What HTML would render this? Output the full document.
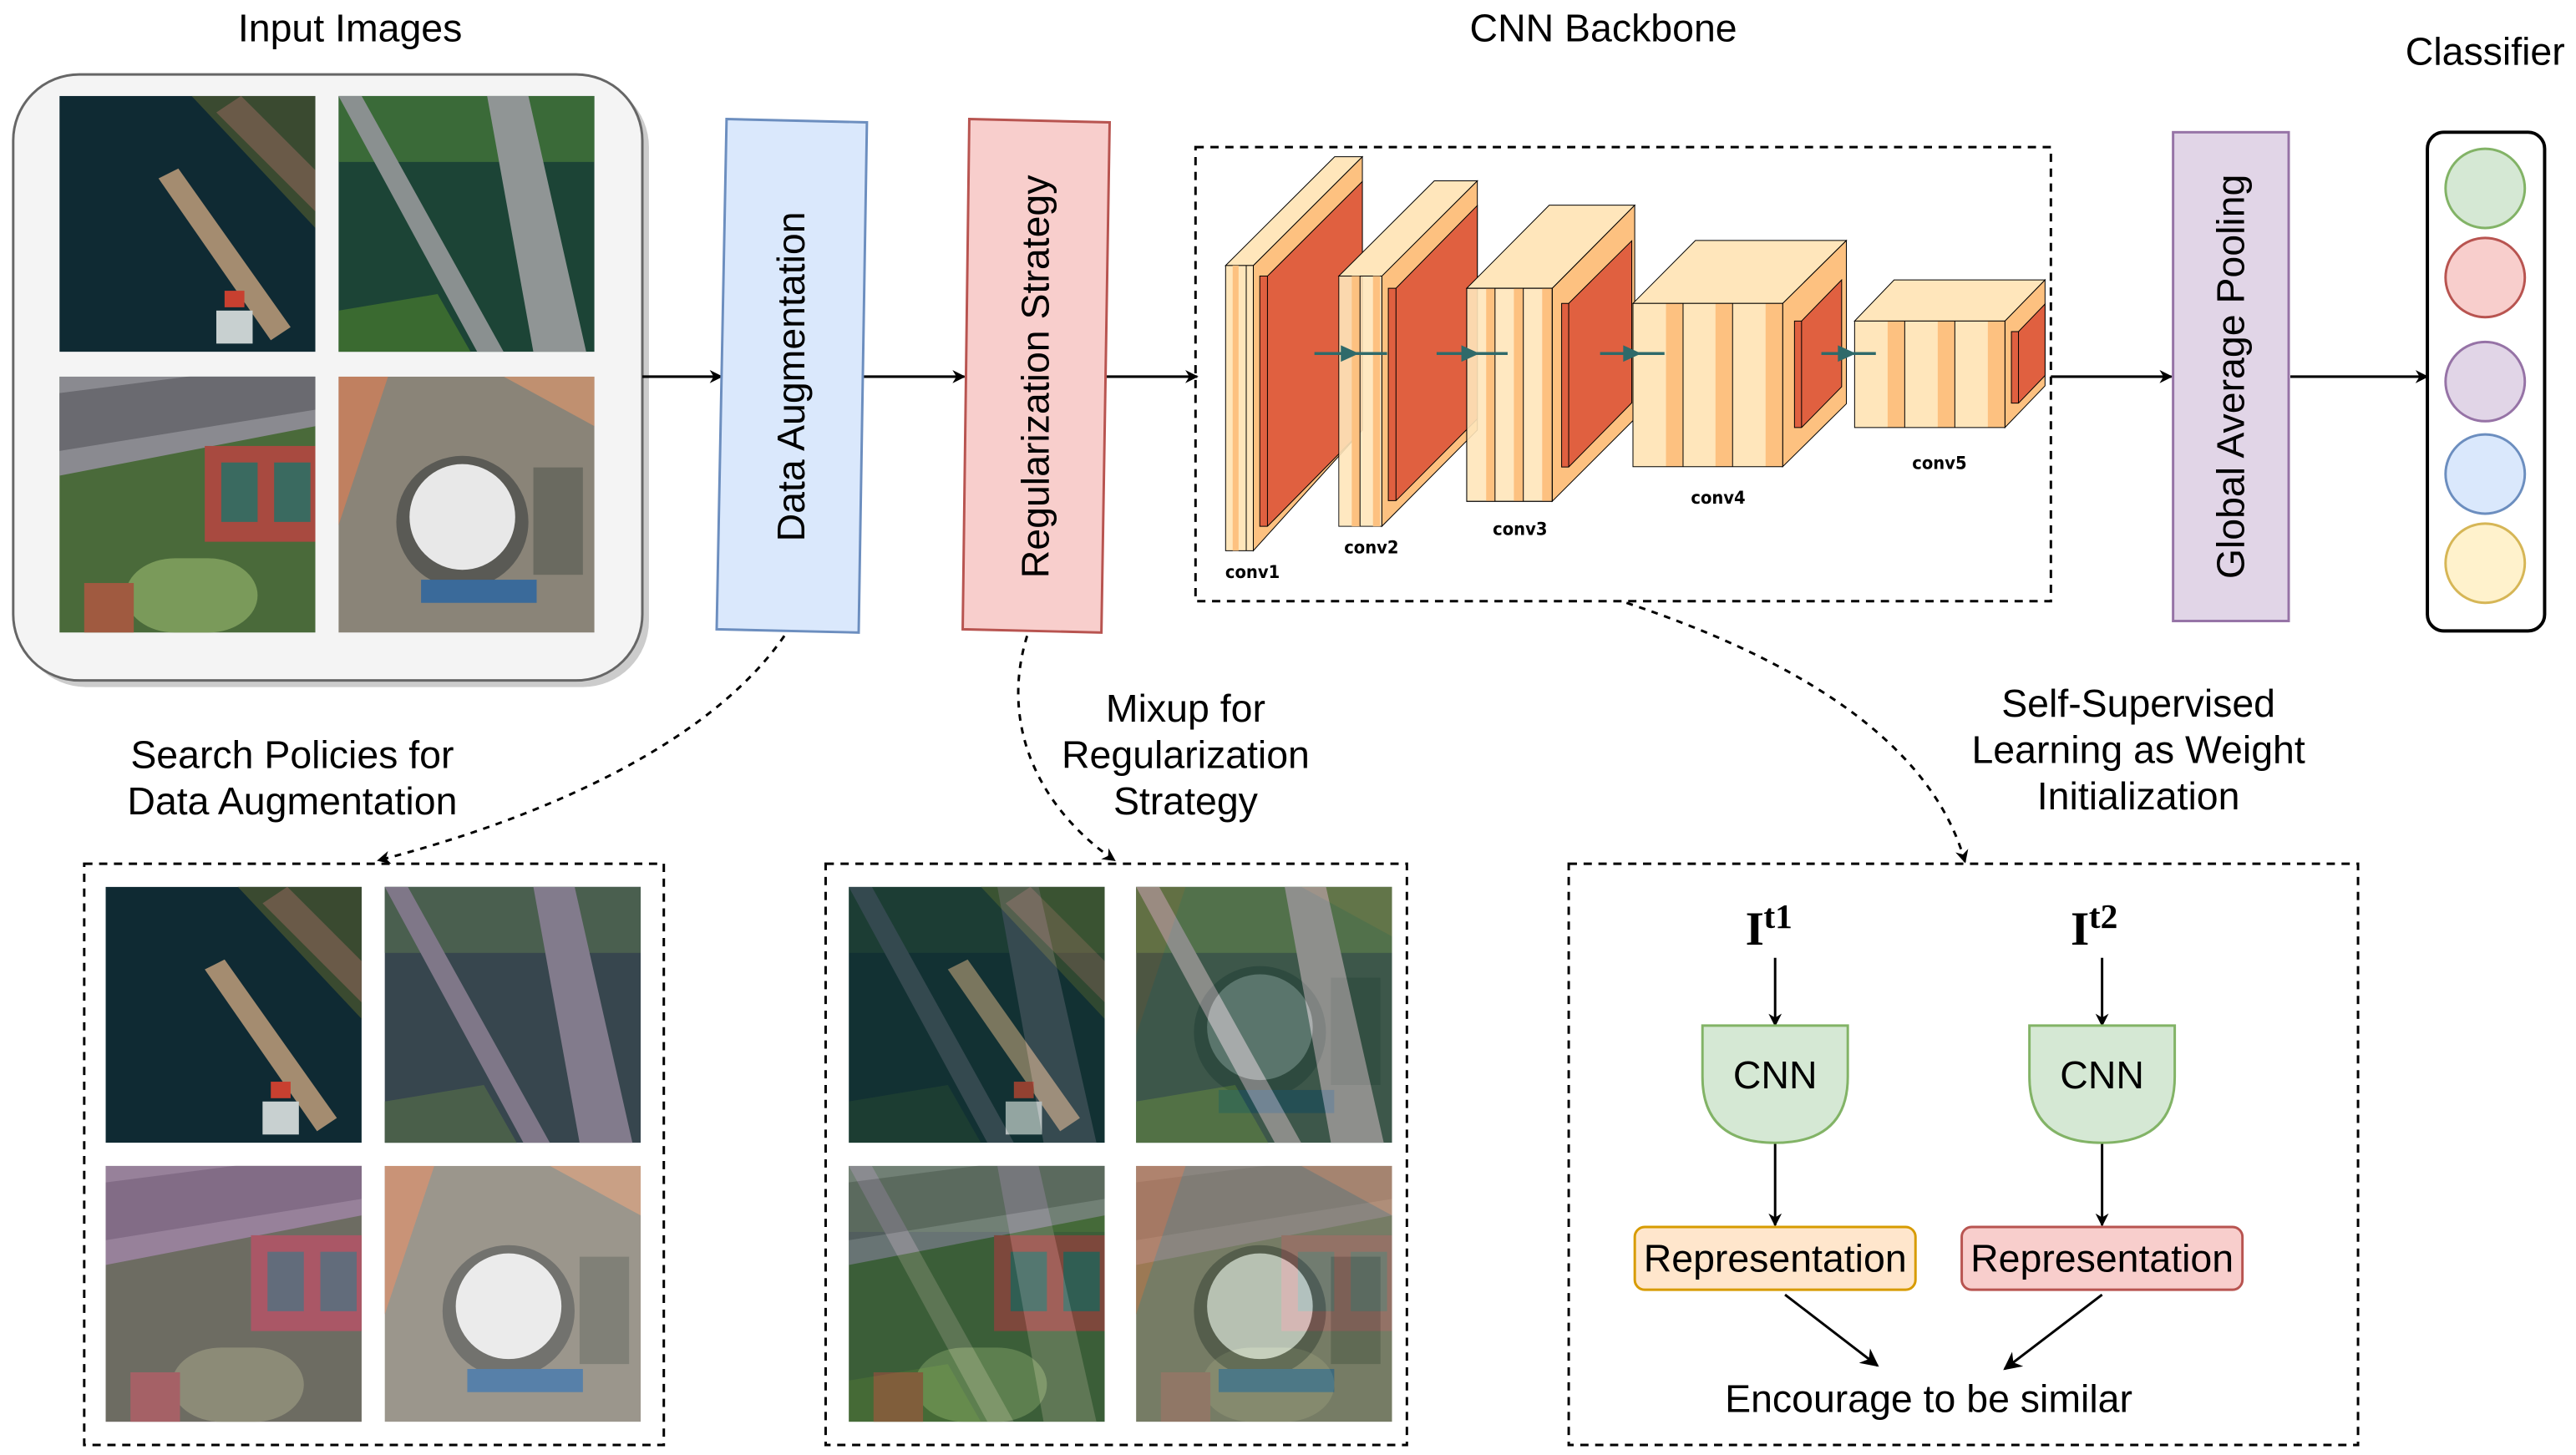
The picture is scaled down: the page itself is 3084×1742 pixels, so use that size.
<!DOCTYPE html>
<html><head><meta charset="utf-8"><style>html,body{margin:0;padding:0;background:#fff}svg{display:block}</style></head>
<body>
<svg width="3084" height="1742" viewBox="0 0 1560 881" xmlns="http://www.w3.org/2000/svg" font-family="Liberation Sans, sans-serif">
<defs>
<marker id="ar" viewBox="0 0 10 10" refX="9" refY="5" markerWidth="8" markerHeight="8" orient="auto" markerUnits="userSpaceOnUse"><path d="M0,0 L10,5 L0,10 L3,5 z" fill="#000"/></marker>
<marker id="ar2" viewBox="0 0 10 10" refX="9" refY="5" markerWidth="11" markerHeight="11" orient="auto" markerUnits="userSpaceOnUse"><path d="M0,0 L10,5 L0,10 L3,5 z" fill="#000"/></marker>
<clipPath id="cp"><rect x="0" y="0" width="155" height="155"/></clipPath>
<g id="harbor"><g clip-path="url(#cp)"><rect width="155" height="155" fill="#0f2a33"/><path d="M80,0 L155,0 L155,80 Z" fill="#3a4a30"/><path d="M110,0 L155,45 L155,70 L95,10 Z" fill="#6a5a48"/><path d="M60,50 L72,44 L140,140 L128,148 Z" fill="#a48c70"/><rect x="95" y="130" width="22" height="20" fill="#c8d0d0"/><rect x="100" y="118" width="12" height="10" fill="#c84030"/></g></g>
<g id="bridge"><g clip-path="url(#cp)"><rect width="155" height="155" fill="#1c4436"/><rect width="155" height="40" fill="#3a6a38"/><path d="M0,0 L14,0 L100,155 L84,155 Z" fill="#8a9090"/><path d="M90,0 L115,0 L150,155 L118,155 Z" fill="#909595"/><path d="M0,130 L60,120 L80,155 L0,155 Z" fill="#3a6a30"/></g></g>
<g id="tennis"><g clip-path="url(#cp)"><rect width="155" height="155" fill="#4a6a3a"/><path d="M0,0 L155,0 L155,30 L0,60 Z" fill="#8a8a90"/><path d="M0,10 L155,-10 L155,20 L0,45 Z" fill="#6a6a70"/><rect x="88" y="42" width="67" height="58" fill="#a84a40"/><rect x="98" y="52" width="22" height="36" fill="#3a6a60"/><rect x="130" y="52" width="22" height="36" fill="#3a6a60"/><rect x="40" y="110" width="80" height="45" rx="30" fill="#7a9a5a"/><rect x="15" y="125" width="30" height="30" fill="#a05a40"/></g></g>
<g id="stadium"><g clip-path="url(#cp)"><rect width="155" height="155" fill="#8a8478"/><path d="M0,0 L30,0 L0,90 Z" fill="#c08060"/><path d="M100,0 L155,0 L155,30 Z" fill="#c09070"/><circle cx="75" cy="88" r="40" fill="#5a5a55"/><circle cx="75" cy="85" r="32" fill="#e8e8e8"/><rect x="50" y="123" width="70" height="14" fill="#3a6a9a"/><rect x="118" y="55" width="30" height="65" fill="#6a6a60"/></g></g>
</defs>

<!-- Titles -->
<g font-size="23.5" fill="#000" text-anchor="middle">
<text x="212" y="25">Input Images</text>
<text x="971" y="25">CNN Backbone</text>
<text x="1505" y="39">Classifier</text>
<text x="177" y="465">Search Policies for</text>
<text x="177" y="493">Data Augmentation</text>
<text x="718" y="437">Mixup for</text>
<text x="718" y="465">Regularization</text>
<text x="718" y="493">Strategy</text>
<text x="1295" y="434">Self-Supervised</text>
<text x="1295" y="462">Learning as Weight</text>
<text x="1295" y="490">Initialization</text>
</g>

<!-- Input images box -->
<rect x="12" y="49" width="381" height="367" rx="40" fill="#aaa" opacity="0.6"/>
<rect x="8" y="45" width="381" height="367" rx="40" fill="#f4f4f4" stroke="#666" stroke-width="1.5"/>
<use href="#harbor" x="36" y="58"/>
<use href="#bridge" x="205" y="58"/>
<use href="#tennis" x="36" y="228"/>
<use href="#stadium" x="205" y="228"/>

<!-- main arrows -->
<g stroke="#000" stroke-width="1.6" fill="none">
<line x1="389" y1="228" x2="437" y2="228" marker-end="url(#ar)"/>
<line x1="522" y1="228" x2="584" y2="228" marker-end="url(#ar)"/>
<line x1="669" y1="228" x2="725" y2="228" marker-end="url(#ar)"/>
<line x1="1242" y1="228" x2="1315" y2="228" marker-end="url(#ar)"/>
<line x1="1387" y1="228" x2="1470" y2="228" marker-end="url(#ar)"/>
</g>

<!-- Data Augmentation -->
<path d="M440,72 L525,74 L520,383 L434,381 Z" fill="#dae8fc" stroke="#6c8ebf" stroke-width="1.5"/>
<text x="0" y="0" font-size="23.5" text-anchor="middle" transform="translate(487,228) rotate(-90)">Data Augmentation</text>
<!-- Regularization -->
<path d="M587,72 L672,74 L667,383 L583,381 Z" fill="#f8cecc" stroke="#b85450" stroke-width="1.5"/>
<text x="0" y="0" font-size="23.5" text-anchor="middle" transform="translate(635,228) rotate(-90)">Regularization Strategy</text>
<!-- GAP -->
<rect x="1316" y="80" width="70" height="296" fill="#e1d5e7" stroke="#9673a6" stroke-width="1.5"/>
<text x="0" y="0" font-size="23.5" text-anchor="middle" transform="translate(1359,228) rotate(-90)">Global Average Pooling</text>

<!-- Classifier -->
<rect x="1470" y="80" width="71" height="302" rx="10" fill="#fff" stroke="#000" stroke-width="2"/>
<circle cx="1505" cy="114" r="24" fill="#d5e8d4" stroke="#82b366" stroke-width="1.5"/>
<circle cx="1505" cy="168" r="24" fill="#f8cecc" stroke="#b85450" stroke-width="1.5"/>
<circle cx="1505" cy="231" r="24" fill="#e1d5e7" stroke="#9673a6" stroke-width="1.5"/>
<circle cx="1505" cy="287" r="24" fill="#dae8fc" stroke="#6c8ebf" stroke-width="1.5"/>
<circle cx="1505" cy="341" r="24" fill="#fff2cc" stroke="#d6b656" stroke-width="1.5"/>

<!-- CNN backbone -->
<rect x="724" y="89" width="518" height="275" fill="none" stroke="#000" stroke-width="1.5" stroke-dasharray="5,4"/>
<g transform="translate(710.8,75.8) scale(0.357,0.1943)" stroke="#000" stroke-width="1" vector-effect="non-scaling-stroke">
<g style="vector-effect:non-scaling-stroke">
 <!-- conv1 -->
 <path vector-effect="non-scaling-stroke" d="M135,437 L320,98 L320,950 L135,1326 Z" fill="#fdc180"/>
 <path vector-effect="non-scaling-stroke" d="M88,437 L135,437 L320,98 L273,98 Z" fill="#ffe6bb"/>
 <rect vector-effect="non-scaling-stroke" x="88" y="437" width="47" height="889" fill="#ffe6bb"/>
 <rect x="100" y="437" width="10" height="889" fill="#fdc180" stroke="none"/>
 <line vector-effect="non-scaling-stroke" x1="123" y1="437" x2="123" y2="1326"/>
 <path vector-effect="non-scaling-stroke" d="M146,470 L159,470 L320,175 L320,950 L159,1250 L146,1250 Z" fill="#e06040"/>
 <line vector-effect="non-scaling-stroke" x1="159" y1="470" x2="159" y2="1250"/>
 <!-- conv2 -->
 <path vector-effect="non-scaling-stroke" d="M353,470 L515,173 L515,950 L353,1250 Z" fill="#fdc180"/>
 <path vector-effect="non-scaling-stroke" d="M280,470 L353,470 L515,173 L442,173 Z" fill="#ffe6bb"/>
 <rect vector-effect="non-scaling-stroke" x="280" y="470" width="73" height="780" fill="#ffe6bb" opacity="0.9"/>
 <rect x="302" y="470" width="14" height="780" fill="#fdc180" stroke="none"/>
 <rect x="338" y="470" width="12" height="780" fill="#fdc180" stroke="none"/>
 <line vector-effect="non-scaling-stroke" x1="316" y1="470" x2="316" y2="1250"/>
 <path vector-effect="non-scaling-stroke" d="M364,508 L377,508 L515,250 L515,915 L377,1170 L364,1170 Z" fill="#e06040"/>
 <line vector-effect="non-scaling-stroke" x1="377" y1="508" x2="377" y2="1170"/>
 <!-- conv3 -->
 <path vector-effect="non-scaling-stroke" d="M642,508 L782,249 L782,915 L642,1172 Z" fill="#fdc180"/>
 <path vector-effect="non-scaling-stroke" d="M497,508 L642,508 L782,249 L637,249 Z" fill="#ffe6bb"/>
 <rect vector-effect="non-scaling-stroke" x="497" y="508" width="145" height="664" fill="#ffe6bb" opacity="0.9"/>
 <rect x="530" y="508" width="15" height="664" fill="#fdc180" stroke="none"/>
 <rect x="577" y="508" width="16" height="664" fill="#fdc180" stroke="none"/>
 <rect x="625" y="508" width="16" height="664" fill="#fdc180" stroke="none"/>
 <line vector-effect="non-scaling-stroke" x1="545" y1="508" x2="545" y2="1172"/><line vector-effect="non-scaling-stroke" x1="593" y1="508" x2="593" y2="1172"/>
 <rect vector-effect="non-scaling-stroke" x="497" y="508" width="145" height="664" fill="none"/>
 <path vector-effect="non-scaling-stroke" d="M658,555 L670,555 L777,360 L777,865 L670,1065 L658,1065 Z" fill="#e06040"/>
 <line vector-effect="non-scaling-stroke" x1="670" y1="555" x2="670" y2="1065"/>
 <!-- conv4 -->
 <path vector-effect="non-scaling-stroke" d="M1033,555 L1141,359 L1141,868 L1033,1064 Z" fill="#fdc180"/>
 <path vector-effect="non-scaling-stroke" d="M779,555 L1033,555 L1141,359 L885,359 Z" fill="#ffe6bb"/>
 <rect x="779" y="555" width="254" height="509" fill="#ffe6bb" stroke="none"/>
 <rect x="835" y="555" width="29" height="509" fill="#fdc180" stroke="none"/>
 <rect x="919" y="555" width="29" height="509" fill="#fdc180" stroke="none"/>
 <rect x="1004" y="555" width="29" height="509" fill="#fdc180" stroke="none"/>
 <line vector-effect="non-scaling-stroke" x1="864" y1="555" x2="864" y2="1064"/><line vector-effect="non-scaling-stroke" x1="948" y1="555" x2="948" y2="1064"/>
 <rect vector-effect="non-scaling-stroke" x="779" y="555" width="254" height="509" fill="none"/>
 <path vector-effect="non-scaling-stroke" d="M1053,610 L1065,610 L1133,482 L1133,815 L1065,942 L1053,942 Z" fill="#e06040"/>
 <line vector-effect="non-scaling-stroke" x1="1065" y1="610" x2="1065" y2="942"/>
 <!-- conv5 -->
 <path vector-effect="non-scaling-stroke" d="M1410,610 L1478,482 L1478,812 L1410,942 Z" fill="#fdc180"/>
 <path vector-effect="non-scaling-stroke" d="M1155,610 L1410,610 L1478,482 L1222,482 Z" fill="#ffe6bb"/>
 <rect x="1155" y="610" width="255" height="332" fill="#ffe6bb" stroke="none"/>
 <rect x="1211" y="610" width="29" height="332" fill="#fdc180" stroke="none"/>
 <rect x="1296" y="610" width="29" height="332" fill="#fdc180" stroke="none"/>
 <rect x="1381" y="610" width="29" height="332" fill="#fdc180" stroke="none"/>
 <line vector-effect="non-scaling-stroke" x1="1240" y1="610" x2="1240" y2="942"/><line vector-effect="non-scaling-stroke" x1="1325" y1="610" x2="1325" y2="942"/>
 <rect vector-effect="non-scaling-stroke" x="1155" y="610" width="255" height="332" fill="none"/>
 <path vector-effect="non-scaling-stroke" d="M1421,643 L1433,643 L1478,557 L1478,780 L1433,866 L1421,866 Z" fill="#e06040"/>
 <line vector-effect="non-scaling-stroke" x1="1433" y1="643" x2="1433" y2="866"/>
</g>
</g>
<!-- teal arrows (display coords) -->
<g stroke="#2f6a6a" stroke-width="1.8">
 <line x1="796" y1="214" x2="840" y2="214"/><path d="M812,209 L823,214 L812,219 Z" fill="#2f6a6a" stroke="none"/>
 <line x1="870" y1="214" x2="913" y2="214"/><path d="M885,209 L896,214 L885,219 Z" fill="#2f6a6a" stroke="none"/>
 <line x1="969" y1="214" x2="1008" y2="214"/><path d="M983,209 L994,214 L983,219 Z" fill="#2f6a6a" stroke="none"/>
 <line x1="1103" y1="214" x2="1136" y2="214"/><path d="M1113,209 L1124,214 L1113,219 Z" fill="#2f6a6a" stroke="none"/>
</g>
<g font-size="11" font-weight="bold" fill="#000" font-family="DejaVu Sans Condensed, DejaVu Sans, sans-serif">
 <text x="742" y="350">conv1</text><text x="814" y="335">conv2</text><text x="904" y="324">conv3</text><text x="1024" y="305">conv4</text><text x="1158" y="284">conv5</text>
</g>

<!-- dashed connectors -->
<g stroke="#000" stroke-width="1.5" fill="none" stroke-dasharray="4,4">
<path d="M475,385 C430,450 330,495 229,521" marker-end="url(#ar)"/>
<path d="M622,385 C605,440 630,490 675,521" marker-end="url(#ar)"/>
<path d="M985,365 C1090,400 1170,450 1190,522" marker-end="url(#ar)"/>
</g>

<!-- bottom boxes -->
<g fill="none" stroke="#000" stroke-width="1.5" stroke-dasharray="5,4">
<rect x="51" y="523" width="351" height="352"/>
<rect x="500" y="523" width="352" height="352"/>
<rect x="950" y="523" width="478" height="352"/>
</g>
<!-- augmented images -->
<use href="#harbor" x="64" y="537"/>
<g><use href="#bridge" x="233" y="537"/><rect x="233" y="537" width="155" height="155" fill="#6a4a7a" opacity="0.35"/></g>
<g><use href="#tennis" x="64" y="706"/><rect x="64" y="706" width="155" height="155" fill="#b070b0" opacity="0.35"/></g>
<g><use href="#stadium" x="233" y="706"/><rect x="233" y="706" width="155" height="155" fill="#fff" opacity="0.15"/></g>
<!-- mixup images -->
<use href="#harbor" x="514" y="537"/><g opacity="0.3"><use href="#bridge" x="514" y="537"/></g>
<use href="#bridge" x="688" y="537"/><g opacity="0.3"><use href="#stadium" x="688" y="537"/></g>
<use href="#tennis" x="514" y="706"/><g opacity="0.3"><use href="#bridge" x="514" y="706"/></g>
<use href="#stadium" x="688" y="706"/><g opacity="0.3"><use href="#tennis" x="688" y="706"/></g>

<!-- SSL box -->
<g font-family="Liberation Serif, serif" font-weight="bold" fill="#000">
<text x="1057" y="572" font-size="29">I</text><text x="1068" y="562" font-size="21">t1</text>
<text x="1254" y="572" font-size="29">I</text><text x="1265" y="562" font-size="21">t2</text>
</g>
<g stroke="#000" stroke-width="1.5" fill="none">
<line x1="1075" y1="580" x2="1075" y2="621" marker-end="url(#ar)"/>
<line x1="1273" y1="580" x2="1273" y2="621" marker-end="url(#ar)"/>
<line x1="1075" y1="692" x2="1075" y2="742" marker-end="url(#ar)"/>
<line x1="1273" y1="692" x2="1273" y2="742" marker-end="url(#ar)"/>
<line x1="1081" y1="784" x2="1137" y2="827" marker-end="url(#ar2)"/>
<line x1="1273" y1="784" x2="1214" y2="829" marker-end="url(#ar2)"/>
</g>
<path d="M1031,621 L1119,621 L1119,652 Q1119,692 1075,692 Q1031,692 1031,652 Z" fill="#d5e8d4" stroke="#82b366" stroke-width="1.5"/>
<path d="M1229,621 L1317,621 L1317,652 Q1317,692 1273,692 Q1229,692 1229,652 Z" fill="#d5e8d4" stroke="#82b366" stroke-width="1.5"/>
<rect x="990" y="743" width="170" height="38" rx="6" fill="#ffe6cc" stroke="#d79b00" stroke-width="1.5"/>
<rect x="1188" y="743" width="170" height="38" rx="6" fill="#f8cecc" stroke="#b85450" stroke-width="1.5"/>
<g font-size="23.5" text-anchor="middle" fill="#000">
<text x="1075" y="659">CNN</text><text x="1273" y="659">CNN</text>
<text x="1075" y="770">Representation</text><text x="1273" y="770">Representation</text>
<text x="1168" y="855">Encourage to be similar</text>
</g>
</svg>
</body></html>
